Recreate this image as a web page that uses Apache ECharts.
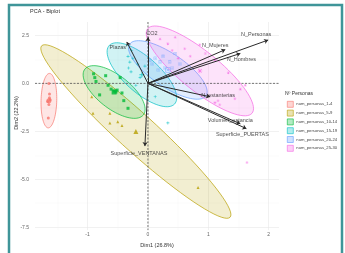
<!DOCTYPE html>
<html lang="es">
<head>
<meta charset="UTF-8">
<title>PCA - Biplot</title>
<style>
    html, body { margin: 0; background: #fff; }
    #chart { width: 345px; height: 253px; }
</style>
</head>
<body>
<div id="chart"></div>
<script src="https://cdn.jsdelivr.net/npm/echarts@6/dist/echarts.min.js"></script>
<script>
// grupos de la leyenda
var groups = ['num_personas_1-4', 'num_personas_5-9', 'num_personas_10-14',
              'num_personas_15-19', 'num_personas_20-24', 'num_personas_25-30'];

// individuos [Dim1, Dim2] por grupo
var ind1_4 = [[-1.64, 0.0], [-1.63, -0.75], [-1.62, -0.85], [-1.66, -0.95], [-1.64, -1.10],
              [-1.65, -1.80], [-1.63, -0.55]];
var ind5_9 = [[-0.93, -0.70], [-0.91, -1.56], [-0.63, -1.56], [-0.50, -2.00], [-0.43, -2.20],
              [-0.63, -2.06], [0.83, -5.43]];
var ind10_14 = [[-0.90, 0.50], [-0.88, 0.30], [-0.86, 0.10], [-0.66, -0.10], [-0.61, -0.30],
                [-0.56, -0.40], [-0.51, -0.35], [-0.53, -0.45], [-0.80, -0.60], [-0.43, -0.50],
                [-0.40, -0.90], [-0.33, -1.30], [-0.70, 0.40], [-0.46, 0.30]];
var ind15_19 = [[-0.33, 1.41], [-0.30, 1.11], [-0.32, 0.80], [-0.28, 0.60], [-0.25, 1.31],
                [-0.17, 1.01], [-0.13, 0.30], [-0.05, 0.90], [-0.20, -0.10], [0.12, -0.70],
                [-0.27, 1.70], [0.33, -2.06]];
var ind20_24 = [[0.03, 1.21], [0.07, 1.01], [0.12, 1.31], [0.20, 1.11], [0.25, 1.41],
                [0.28, 0.80], [0.36, 1.11], [0.40, 0.80], [0.17, 0.70], [0.45, 1.56],
                [0.53, 1.01]];
var ind25_30 = [[0.20, 2.31], [0.33, 2.06], [0.40, 1.71], [0.45, 2.41], [0.50, 1.31],
                [0.61, 1.81], [0.70, 1.41], [0.95, 1.56], [1.11, 1.21], [1.33, 0.55],
                [1.53, -0.30], [1.61, -0.10], [1.11, -1.01], [1.16, -0.90], [1.19, -1.11],
                [1.44, -0.80], [0.86, 2.01], [1.64, -4.12]];
var groupPoints = [ind1_4, ind5_9, ind10_14, ind15_19, ind20_24, ind25_30];

// centroides de cada grupo
var groupMeans = [[-1.64, -0.90], [-0.20, -2.51], [-0.56, -0.45], [-0.10, 0.45], [0.33, 0.70], [0.86, 0.65]];

// elipses: [cx, cy, semieje1 x, semieje1 y, semieje2 x, semieje2 y]
var ellipses = [
    [-1.64, -0.90, 0.01, 1.42, 0.13, 0.0],
    [-0.20, -2.51, 1.559, -4.472, 0.217, 0.693],
    [-0.56, -0.45, 0.481, -1.206, 0.179, 0.658],
    [-0.10, 0.45, 0.539, -1.533, 0.204, 0.658],
    [0.33, 0.70, 0.63, -1.357, 0.163, 0.698],
    [0.86, 0.65, 0.862, -2.211, 0.214, 0.769]
];

// variables (flechas)
var varNames = ['CO2', 'Plazas', 'N_Personas', 'N_Mujeres', 'N_Hombres', 'N_estanterias',
                'Volumen_estancia', 'Superficie_PUERTAS', 'Superficie_VENTANAS'];
var varCoords = [[0.0, 2.40], [-0.35, 2.16], [1.99, 2.26], [1.28, 1.76], [1.53, 1.56],
                 [1.03, -0.70], [1.53, -2.11], [1.63, -2.36], [-0.05, -3.27]];

var xTicks = [-1, 0, 1, 2];
var xMinor = [-1.5, -0.5, 0.5, 1.5];
var yTicks = [-7.5, -5, -2.5, 0, 2.5];
var yMinor = [-6.25, -3.75, -1.25, 1.25];

var colors = ['#F8766D', '#B79F00', '#00BA38', '#00BFC4', '#619CFF', '#F564E3'];
var symbols = [
    'circle',
    'triangle',
    'rect',
    'path://M4,0H6V4H10V6H6V10H4V6H0V4H4Z',
    'path://M0,0H10V10H0Z M1,1L1,9L9,9L9,1Z M2,2.7L2.7,2L5,4.3L7.3,2L8,2.7L5.7,5L8,7.3L7.3,8L5,5.7L2.7,8L2,7.3L4.3,5Z',
    'path://M4.5,0h1v10h-1z M0,4.5h10v1h-10z M1.5,0.8L9.2,8.5L8.5,9.2L0.8,1.5Z M8.5,0.8L9.2,1.5L1.5,9.2L0.8,8.5Z'
];
// desplazamiento de las etiquetas de las flechas (px)
var labelOffsets = [[4, -4], [-9, 6], [-12, -6], [-10, -4], [1, 6], [8, -1], [-10, -3], [-4, 6], [-6, 7]];

var font = 'Liberation Sans';

function hexA(hex, a) {
    var n = parseInt(hex.slice(1), 16);
    return 'rgba(' + (n >> 16) + ',' + ((n >> 8) & 255) + ',' + (n & 255) + ',' + a + ')';
}

var myChart = echarts.init(document.getElementById('chart'));

var series = [];

// elipses de concentracion
ellipses.forEach(function (e, i) {
    series.push({
        type: 'custom',
        name: groups[i],
        z: 1,
        silent: true,
        clip: true,
        data: [e],
        renderItem: function (params, api) {
            var pts = [];
            for (var k = 0; k < 80; k++) {
                var t = k / 80 * Math.PI * 2;
                pts.push(api.coord([
                    api.value(0) + Math.cos(t) * api.value(2) + Math.sin(t) * api.value(4),
                    api.value(1) + Math.cos(t) * api.value(3) + Math.sin(t) * api.value(5)
                ]));
            }
            return {
                type: 'polygon',
                shape: { points: pts },
                style: { fill: hexA(colors[i], 0.18), stroke: colors[i], lineWidth: 0.7 }
            };
        }
    });
});

// lineas discontinuas por el origen
series.push({
    type: 'custom',
    z: 2,
    silent: true,
    data: [[0, 0]],
    renderItem: function (params, api) {
        var o = api.coord([api.value(0), api.value(1)]);
        var cs = params.coordSys;
        var st = { stroke: '#555', lineWidth: 0.8, lineDash: [2, 1.5] };
        return {
            type: 'group',
            children: [
                { type: 'line', shape: { x1: cs.x, y1: o[1], x2: cs.x + cs.width, y2: o[1] }, style: st },
                { type: 'line', shape: { x1: o[0], y1: cs.y, x2: o[0], y2: cs.y + cs.height }, style: st }
            ]
        };
    }
});

// individuos y centroides
groupPoints.forEach(function (pts, i) {
    series.push({
        type: 'scatter',
        name: groups[i],
        z: 3,
        silent: true,
        symbol: symbols[i],
        symbolSize: 3,
        itemStyle: { color: colors[i] },
        data: pts
    });
    series.push({
        type: 'scatter',
        name: groups[i],
        z: 3,
        silent: true,
        symbol: symbols[i],
        symbolSize: 5,
        itemStyle: { color: colors[i] },
        data: [groupMeans[i]]
    });
});

// flechas de las variables
series.push({
    type: 'lines',
    coordinateSystem: 'cartesian2d',
    z: 4,
    silent: true,
    symbol: ['none', 'arrow'],
    symbolSize: 4,
    lineStyle: { color: '#2a2a2a', width: 1, opacity: 1 },
    data: varCoords.map(function (c) { return { coords: [[0, 0], c] }; })
});

// etiquetas de las variables
series.push({
    type: 'scatter',
    z: 5,
    silent: true,
    symbolSize: 0,
    label: {
        show: true,
        position: 'inside',
        formatter: '{b}',
        fontSize: 5.5,
        fontFamily: font,
        color: '#222'
    },
    data: varCoords.map(function (c, i) {
        return { name: varNames[i], value: c, label: { offset: labelOffsets[i] } };
    })
});

var option = {
    animation: false,
    backgroundColor: '#fff',
    textStyle: { fontFamily: font },
    title: [{
        text: 'PCA - Biplot',
        left: 30, top: 8, padding: 0,
        textStyle: { fontSize: 5.5, fontWeight: 'normal', color: '#333', fontFamily: font }
    }, {
        text: 'Nº Personas',
        left: 285, top: 91, padding: 0,
        textStyle: { fontSize: 5, fontWeight: 'normal', color: '#333', fontFamily: font }
    }],
    legend: {
        left: 287, top: 101, padding: 0,
        orient: 'vertical',
        icon: 'rect',
        itemWidth: 6, itemHeight: 6, itemGap: 2.2,
        selectedMode: false,
        textStyle: { fontSize: 4.2, color: '#444', fontFamily: font, padding: [0, 0, 0, -2] },
        data: groups.map(function (g, i) {
            return { name: g, itemStyle: { color: hexA(colors[i], 0.3), borderColor: colors[i], borderWidth: 0.6 } };
        })
    },
    grid: { left: 35, right: 66, top: 22, bottom: 15 },
    xAxis: [{
        type: 'value', min: -1.87, max: 2.17,
        axisLine: { show: false },
        axisTick: { show: false, customValues: xTicks },
        axisLabel: { customValues: xTicks, fontSize: 5, color: '#666', margin: 2 },
        splitLine: { show: true, lineStyle: { color: '#E8E8E8', width: 0.6 } },
        name: 'Dim1 (26.8%)', nameLocation: 'middle', nameGap: 9,
        nameTextStyle: { fontSize: 5.5, color: '#333' }
    }, {
        type: 'value', min: -1.87, max: 2.17,
        axisLine: { show: false },
        axisTick: { show: false, customValues: xMinor },
        axisLabel: { show: false },
        splitLine: { show: true, lineStyle: { color: '#F3F3F3', width: 0.4 } }
    }],
    yAxis: [{
        type: 'value', min: -7.65, max: 3.2,
        axisLine: { show: false },
        axisTick: { show: false, customValues: yTicks },
        axisLabel: {
            customValues: yTicks, fontSize: 5, color: '#666', margin: 6,
            formatter: function (v) { return v.toFixed(1); }
        },
        splitLine: { show: true, lineStyle: { color: '#E8E8E8', width: 0.6 } }
    }, {
        type: 'value', min: -7.65, max: 3.2,
        axisLine: { show: false },
        axisTick: { show: false, customValues: yMinor },
        axisLabel: { show: false },
        splitLine: { show: true, lineStyle: { color: '#F3F3F3', width: 0.4 } }
    }],
    graphic: [{
        type: 'text',
        x: 16, y: 113,
        rotation: Math.PI / 2,
        style: { text: 'Dim2 (22.2%)', fontSize: 5.5, fill: '#333', fontFamily: font, align: 'center', verticalAlign: 'middle' }
    }, {
        type: 'rect',
        z: 100,
        silent: true,
        shape: { x: 9, y: 5, width: 333, height: 262 },
        style: { fill: 'none', stroke: '#3f9599', lineWidth: 2.5 }
    }],
    series: series
};

myChart.setOption(option);
</script>
</body>
</html>
